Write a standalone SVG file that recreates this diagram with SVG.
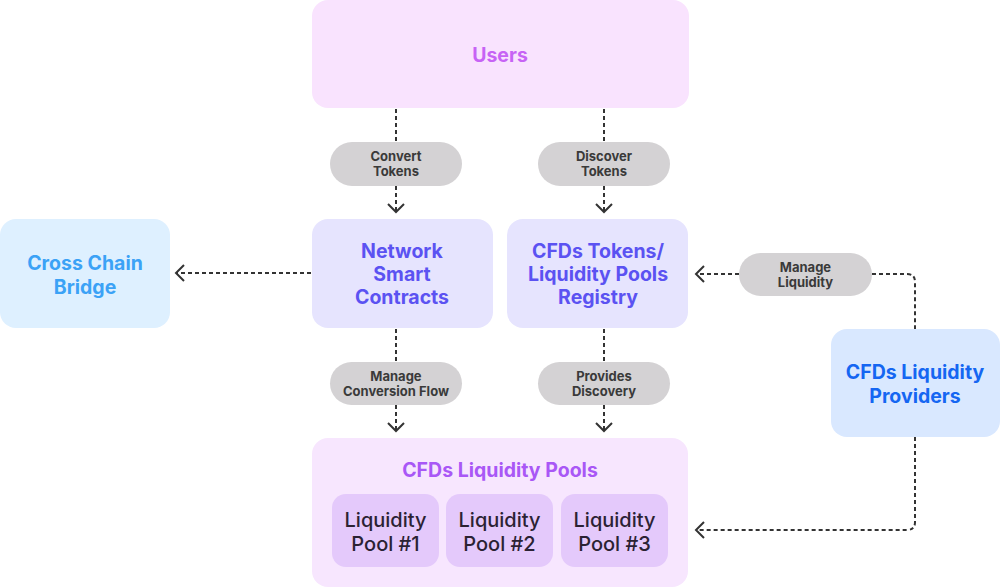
<svg xmlns="http://www.w3.org/2000/svg" width="1000" height="587" viewBox="0 0 1000 587">
<defs>
<style>
.t{font-family:Inter,"Liberation Sans",sans-serif;font-weight:700;text-anchor:middle}
.big{font-size:19.5px}
.pill{fill:#D4D2D4}
.pt{font-size:13px;fill:#3A3A3A}
.c{fill:none;stroke:#333;stroke-width:2;stroke-dasharray:4 3}
.pool{fill:#E4C9FB}
.pt2{font-family:Inter,"Liberation Sans",sans-serif;font-weight:500;font-size:20px;fill:#2B2233;text-anchor:middle}
</style>
<marker id="ah" viewBox="-10 -10 20 20" refX="0" refY="0" markerWidth="20" markerHeight="20" markerUnits="userSpaceOnUse" orient="auto">
<path d="M-8,-8 L0,0 L-8,8" fill="none" stroke="#333" stroke-width="2" stroke-dasharray="none"/>
</marker>
</defs>
<rect width="1000" height="587" fill="#fff"/>
<g id="connectors">
<path class="c" d="M396,109 V142"/>
<path class="c" d="M396,186 V212" marker-end="url(#ah)"/>
<path class="c" d="M604,109 V142"/>
<path class="c" d="M604,186 V212" marker-end="url(#ah)"/>
<path class="c" d="M396,329 V362"/>
<path class="c" d="M396,405 V431" marker-end="url(#ah)"/>
<path class="c" d="M604,329 V362"/>
<path class="c" d="M604,405 V431" marker-end="url(#ah)"/>
<path class="c" d="M311,273 H176" marker-end="url(#ah)"/>
<path class="c" d="M739,274 H696" marker-end="url(#ah)"/>
<path class="c" d="M872,274 H907 Q915,274 915,282 V329"/>
<path class="c" d="M915,437 V522 Q915,530 907,530 H696" marker-end="url(#ah)"/>
</g>
<g id="users">
<rect x="312" y="0" width="377" height="108" rx="16" fill="#F9E3FE"/>
<text class="t big" x="500" y="62" fill="#C763F5">Users</text>
</g>
<g id="label-convert">
<rect class="pill" x="330" y="142" width="132" height="44" rx="22"/>
<text class="t pt" x="396" y="160.5">Convert</text>
<text class="t pt" x="396" y="175.5">Tokens</text>
</g>
<g id="label-discover">
<rect class="pill" x="538" y="142" width="132" height="44" rx="22"/>
<text class="t pt" x="604" y="160.5">Discover</text>
<text class="t pt" x="604" y="175.5">Tokens</text>
</g>
<g id="cross-chain-bridge">
<rect x="0" y="219" width="170" height="109" rx="16" fill="#DEF0FF"/>
<text class="t big" x="85" y="270" fill="#3BA2F6">Cross Chain</text>
<text class="t big" x="85" y="294" fill="#3BA2F6">Bridge</text>
</g>
<g id="network-smart-contracts">
<rect x="312" y="219" width="181" height="109" rx="16" fill="#E6E4FE"/>
<text class="t big" x="402" y="258" fill="#5B52F2">Network</text>
<text class="t big" x="402" y="281" fill="#5B52F2">Smart</text>
<text class="t big" x="402" y="304" fill="#5B52F2">Contracts</text>
</g>
<g id="registry">
<rect x="507" y="219" width="181" height="109" rx="16" fill="#E6E4FE"/>
<text class="t big" x="598" y="258" fill="#5B52F2">CFDs Tokens/</text>
<text class="t big" x="598" y="281" fill="#5B52F2">Liquidity Pools</text>
<text class="t big" x="598" y="304" fill="#5B52F2">Registry</text>
</g>
<g id="label-manage-liquidity">
<rect class="pill" x="739" y="253" width="133" height="43" rx="21.5"/>
<text class="t pt" x="805.5" y="271.5">Manage</text>
<text class="t pt" x="805.5" y="286.5">Liquidity</text>
</g>
<g id="liquidity-providers">
<rect x="831" y="329" width="169" height="108" rx="16" fill="#D9E8FF"/>
<text class="t big" x="915" y="379" fill="#1566F2">CFDs Liquidity</text>
<text class="t big" x="915" y="403" fill="#1566F2">Providers</text>
</g>
<g id="label-manage-conversion">
<rect class="pill" x="330" y="362" width="132" height="43" rx="21.5"/>
<text class="t pt" x="396" y="380.5">Manage</text>
<text class="t pt" x="396" y="395.5">Conversion Flow</text>
</g>
<g id="label-provides-discovery">
<rect class="pill" x="538" y="362" width="132" height="43" rx="21.5"/>
<text class="t pt" x="604" y="380.5">Provides</text>
<text class="t pt" x="604" y="395.5">Discovery</text>
</g>
<g id="liquidity-pools">
<rect x="312" y="438" width="376" height="149" rx="16" fill="#F7E6FE"/>
<text class="t big" x="500" y="477" fill="#A957F6">CFDs Liquidity Pools</text>
</g>
<g id="pool-1">
<rect class="pool" x="332" y="494" width="107" height="73" rx="14"/>
<text class="pt2" x="385.5" y="527">Liquidity</text>
<text class="pt2" x="385.5" y="551">Pool #1</text>
</g>
<g id="pool-2">
<rect class="pool" x="446" y="494" width="107" height="73" rx="14"/>
<text class="pt2" x="499.5" y="527">Liquidity</text>
<text class="pt2" x="499.5" y="551">Pool #2</text>
</g>
<g id="pool-3">
<rect class="pool" x="561" y="494" width="107" height="73" rx="14"/>
<text class="pt2" x="614.5" y="527">Liquidity</text>
<text class="pt2" x="614.5" y="551">Pool #3</text>
</g>
</svg>
